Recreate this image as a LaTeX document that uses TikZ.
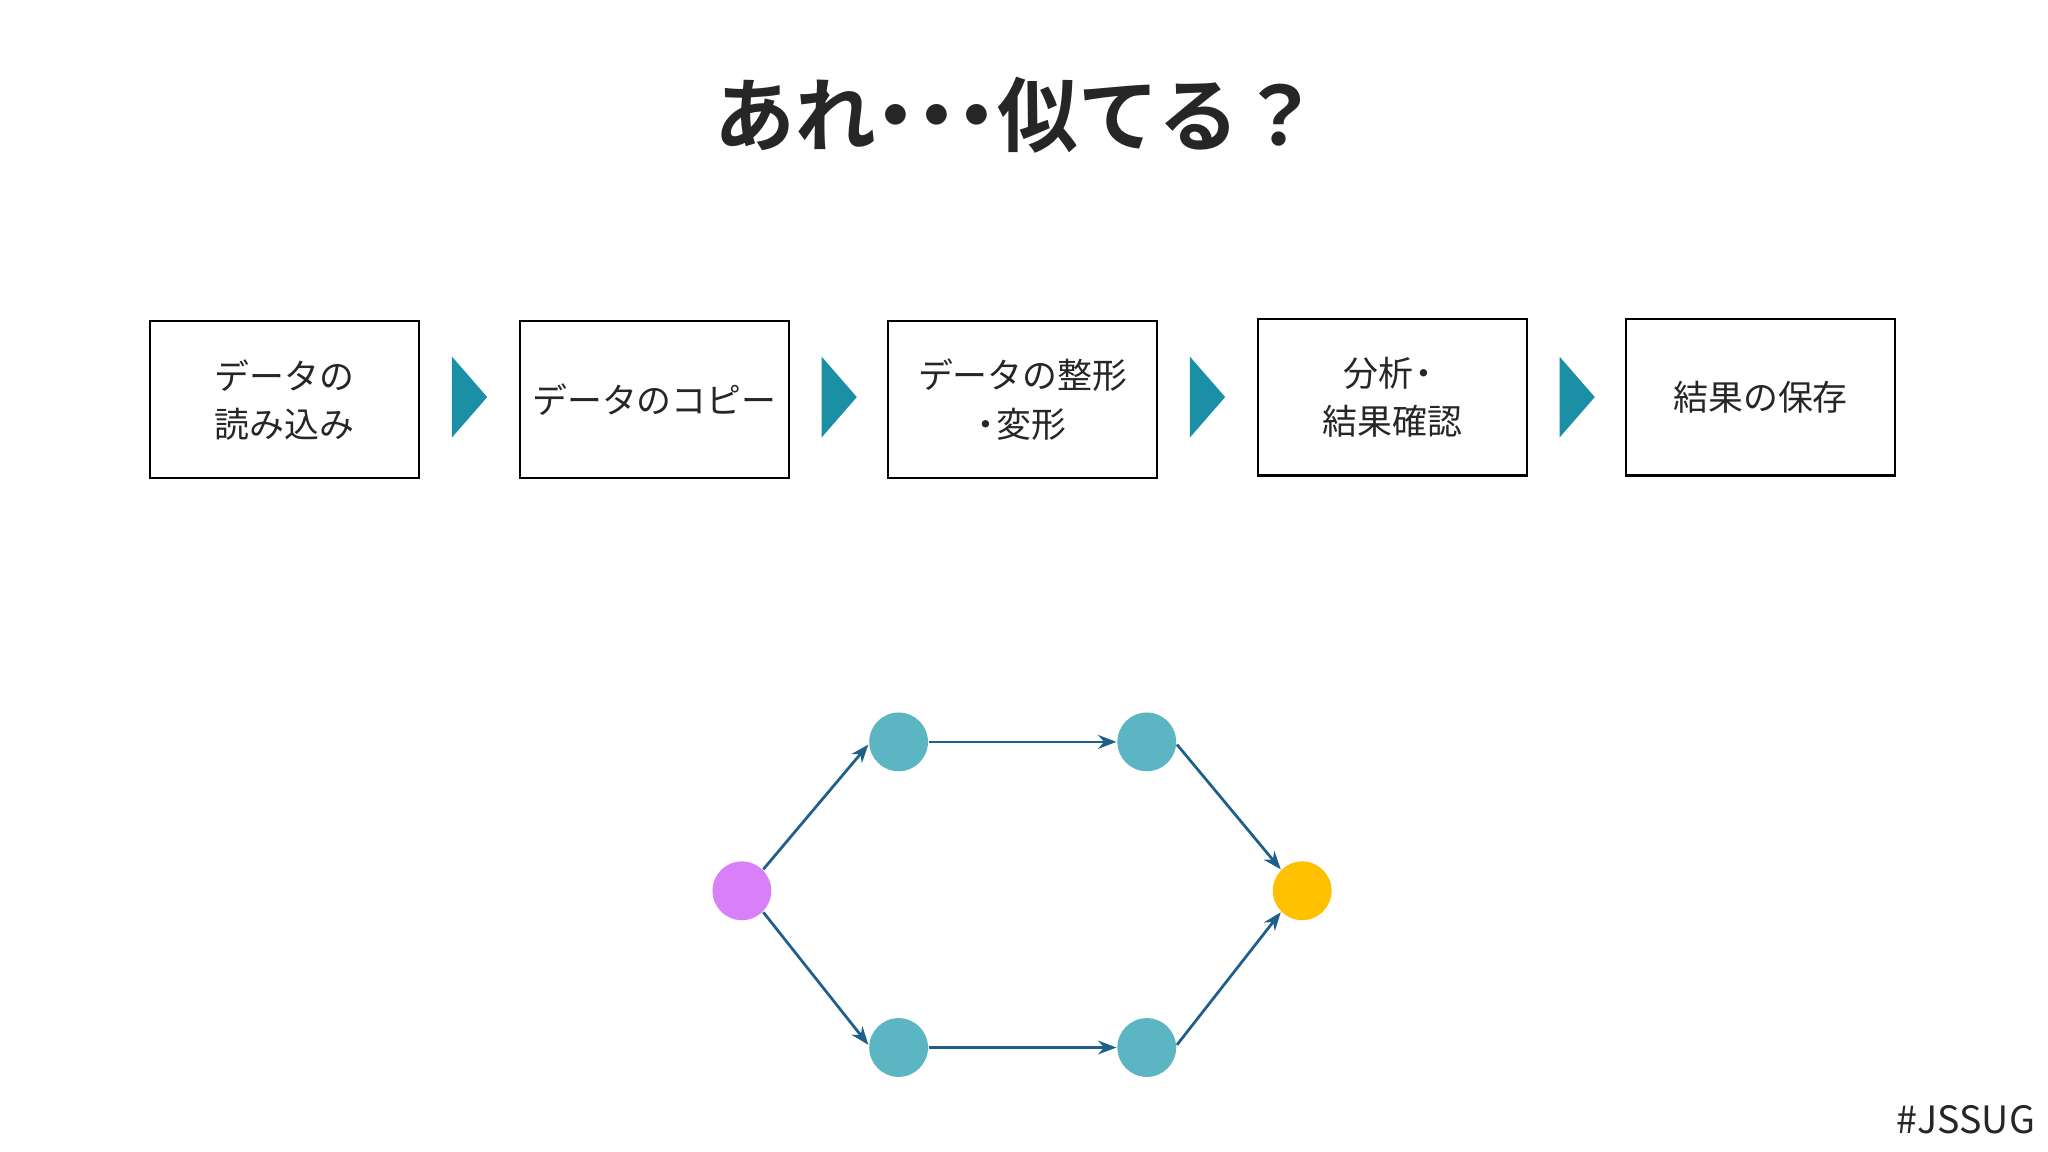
\documentclass[tikz,border=0pt]{standalone}
\usepackage{fontspec}
\setmainfont{Noto Sans CJK JP}
\newfontfamily\jpbold{Noto Sans CJK JP Bold}
\usetikzlibrary{arrows.meta}
\definecolor{teal1}{HTML}{1B8FA6}
\definecolor{edgec}{HTML}{1F5F8B}
\definecolor{dotc}{HTML}{5BB5C2}
\definecolor{purp}{HTML}{D97FF7}
\definecolor{yel}{HTML}{FFC000}
\definecolor{txt}{HTML}{262626}
\newcommand{\nd}{\kern-0.25em・\kern-0.25em}
\begin{document}
\begin{tikzpicture}[x=0.1mm,y=-0.1mm,
  stepbox/.style={draw=black,line width=0.5pt,minimum width=20.6mm,minimum height=12mm,inner sep=0pt,align=center,font=\fontsize{7.6pt}{10.5pt}\selectfont,text=txt},
  chev/.style={fill=teal1,draw=none},
  dot/.style={circle,minimum size=4.5mm,inner sep=0pt,draw=none},
  edge/.style={draw=edgec,line width=0.6pt,-{Stealth[length=4pt,width=3pt]}}]
\useasboundingbox (0,0) rectangle (1568,882);
\fill[white] (0,0) rectangle (1568,882);
\node[text=txt,font=\jpbold\fontsize{17.6pt}{22pt}\selectfont] (title) at (779,88) {あれ\nd\nd\nd 似てる？};
\node[stepbox] (b1) at (218,306) {データの\\読み込み};
\node[stepbox] (b2) at (501,306) {データのコピー};
\node[stepbox] (b3) at (783,306) {データの整形\\\kern-0.3em・\kern-0.2em変形};
\node[stepbox] (b4) at (1066,304) {分析\kern-0.2em・\\結果確認};
\node[stepbox] (b5) at (1348,304) {結果の保存};
\foreach \x in {346,629,911,1194}{
  \fill[chev] (\x,273) -- (\x+27,304) -- (\x,335) -- cycle;}
\node[dot,fill=purp] (s) at (568,682) {};
\node[dot,fill=dotc] (u1) at (688,568) {};
\node[dot,fill=dotc] (u2) at (878,568) {};
\node[dot,fill=dotc] (l1) at (688,802) {};
\node[dot,fill=dotc] (l2) at (878,802) {};
\node[dot,fill=yel] (t) at (997,682) {};
\draw[edge] (s.45) -- (u1.185);
\draw[edge] (u1) -- (u2);
\draw[edge] (u2.-5) -- (t.135);
\draw[edge] (s.-45) -- (l1.175);
\draw[edge] (l1) -- (l2);
\draw[edge] (l2.5) -- (t.-135);
\node[text=txt,font=\fontsize{8.2pt}{10pt}\selectfont] (tag) at (1505,857) {\#JSSUG};
\end{tikzpicture}
\end{document}
